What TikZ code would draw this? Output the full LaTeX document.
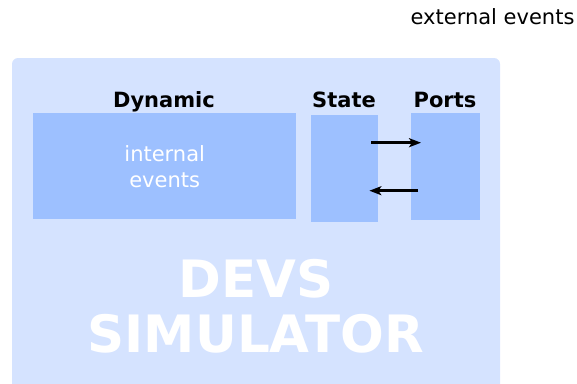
\documentclass[tikz,border=0pt]{standalone}
\usepackage{fontspec}
\setmainfont{DejaVu Sans}
\usetikzlibrary{arrows.meta}
\definecolor{simbg}{RGB}{213,227,255}
\definecolor{partbg}{RGB}{157,192,255}

\begin{document}
\begin{tikzpicture}[x=1pt,y=-1pt,
  part/.style={fill=partbg,draw=none,inner sep=0pt,anchor=north west},
  head/.style={font=\fontsize{21}{25}\selectfont\bfseries,anchor=base},
  flow/.style={line width=2.6pt,-{Stealth[length=12pt,width=9pt,inset=3pt]}}]
\useasboundingbox (0,0) rectangle (577,383);
\fill [simbg,rounded corners=6pt] (12,58) rectangle (500,395);
\node [part,minimum width=263pt,minimum height=106pt] (dynamic) at (33,113) {};
\node [part,minimum width=67pt,minimum height=107pt] (state) at (311,115) {};
\node [part,minimum width=69pt,minimum height=107pt] (ports) at (411,113) {};
\node [head] (dynlbl) at (164,107) {Dynamic};
\node [head] (statelbl) at (344,107) {State};
\node [head] (portslbl) at (445,107) {Ports};
\node [white,align=center,font=\fontsize{21}{26}\selectfont] (internal) at (dynamic.center) {internal\\events};
\node [anchor=base east,font=\fontsize{21}{25}\selectfont] (external) at (578,24) {external events};
\node [white,align=center,anchor=base,font=\fontsize{51.5}{55}\selectfont\bfseries] (simulator) at (256,352) {DEVS\\SIMULATOR};
\draw [flow] ([xshift=-7pt,yshift=26pt]state.east) -- ([xshift=10pt,yshift=24pt]ports.west);
\draw [flow] ([xshift=7pt,yshift=-24pt]ports.west) -- ([xshift=-9pt,yshift=-22pt]state.east);
\end{tikzpicture}
\end{document}
